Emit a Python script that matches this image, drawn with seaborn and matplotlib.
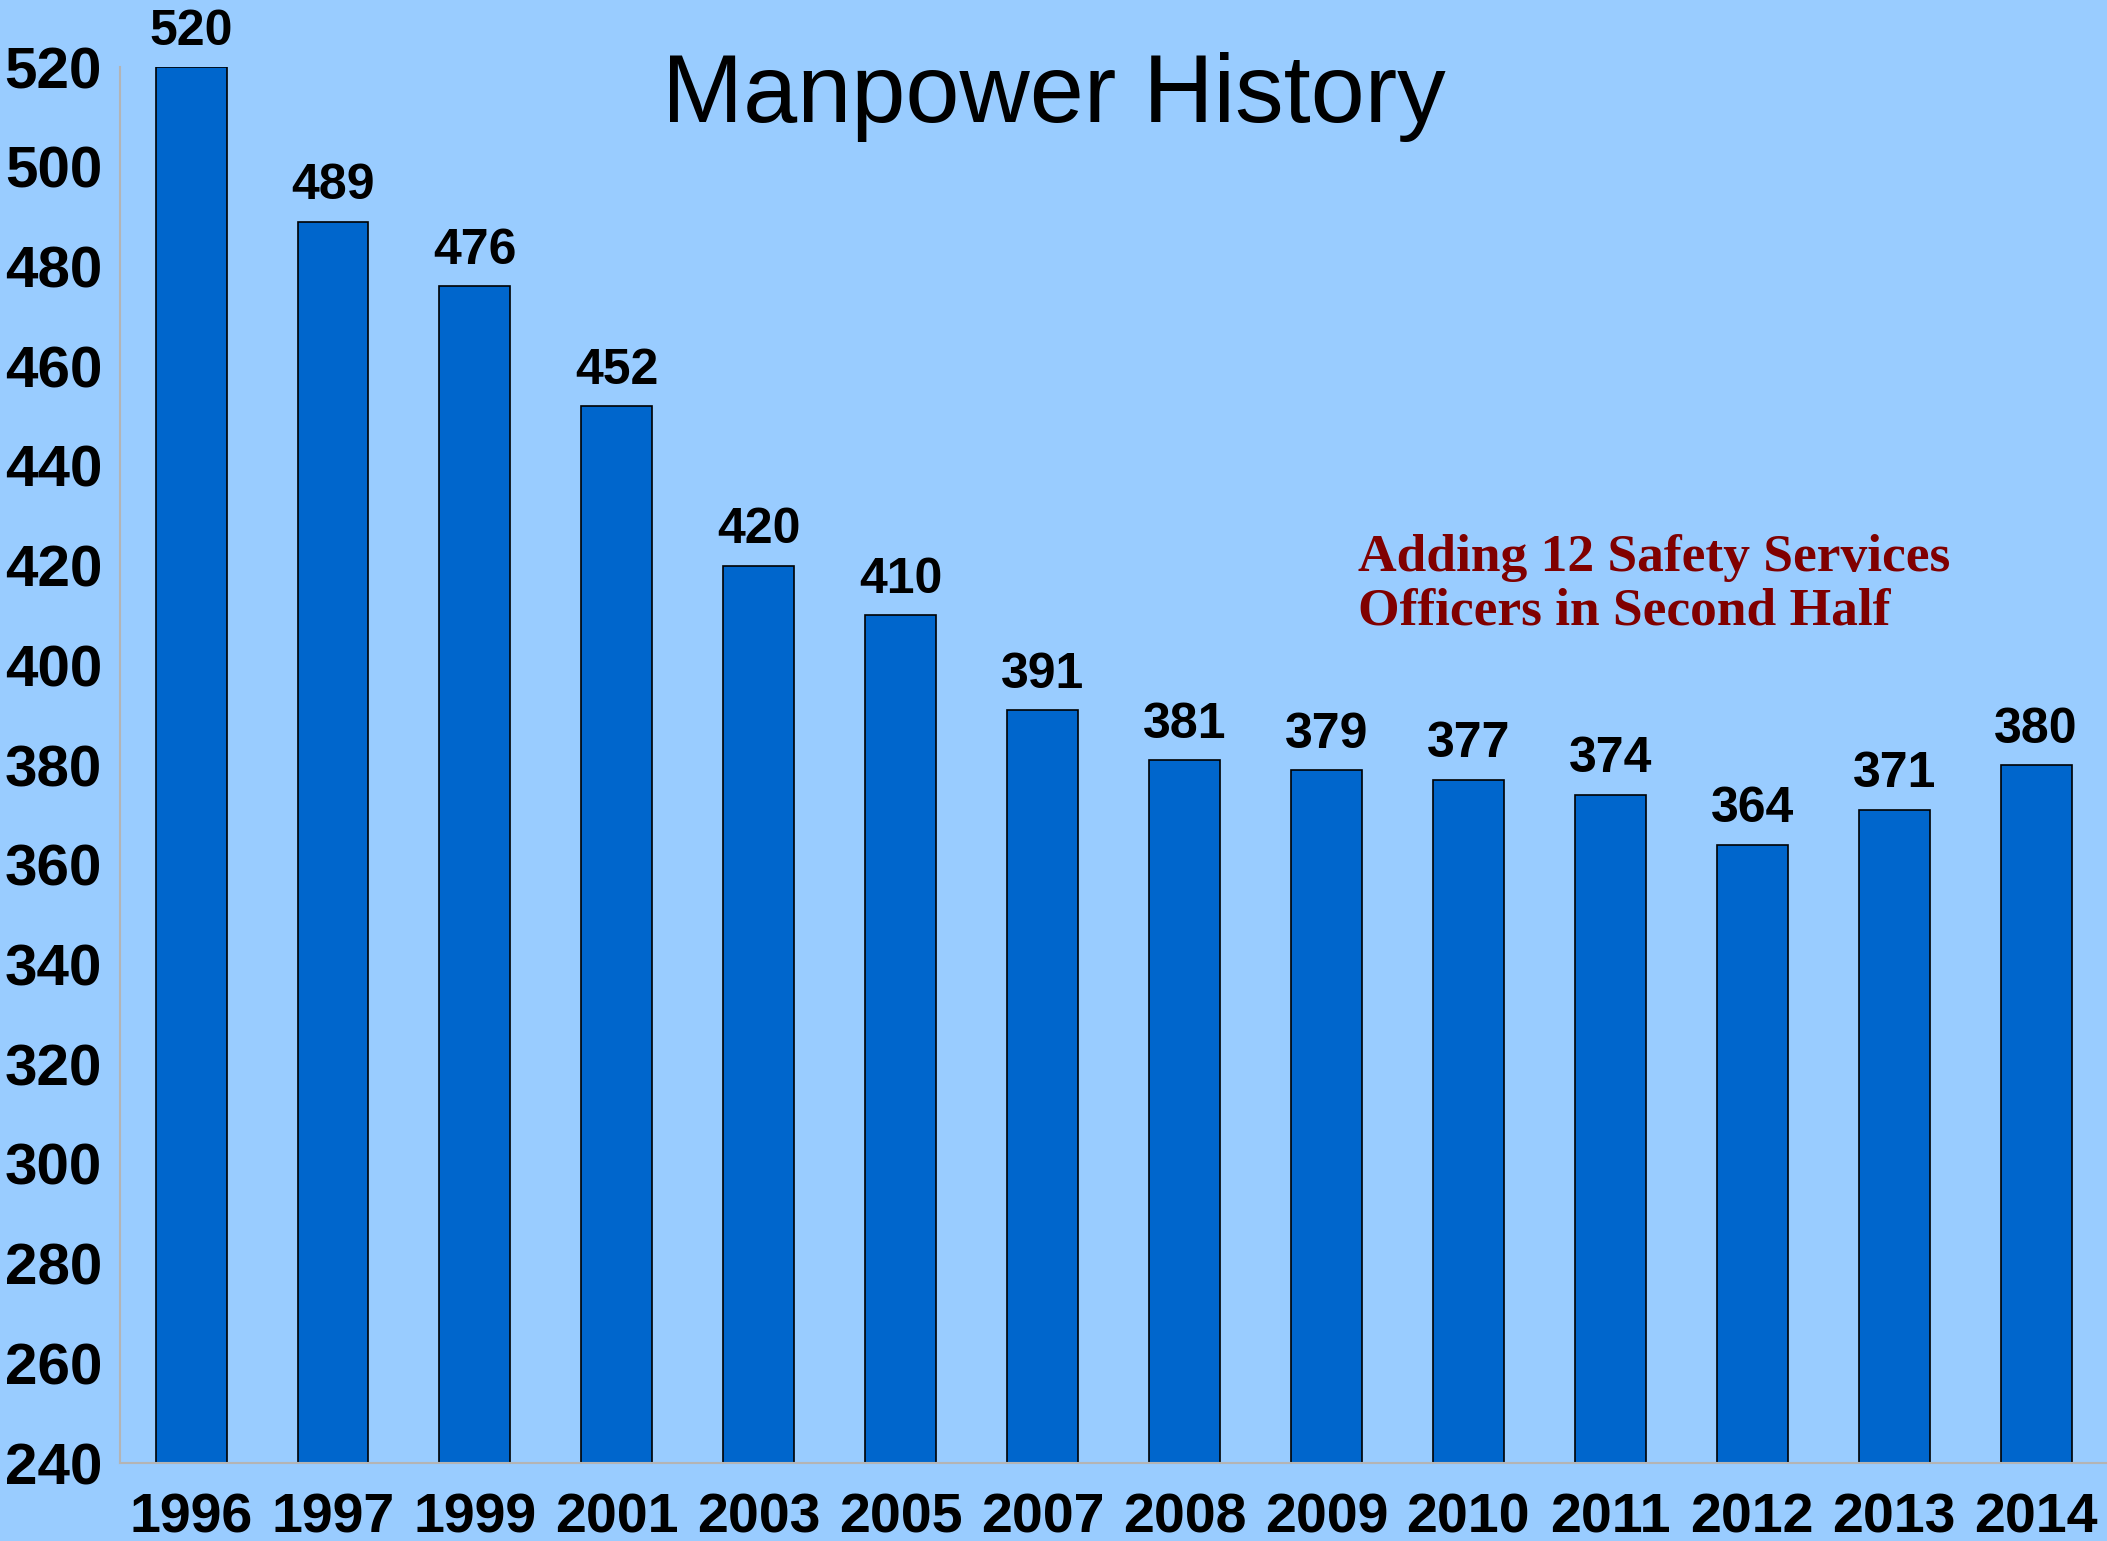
import numpy as np
import pandas as pd
import matplotlib
matplotlib.use("Agg")
import matplotlib.pyplot as plt
import seaborn as sns

years = ["1996", "1997", "1999", "2001", "2003", "2005", "2007",
         "2008", "2009", "2010", "2011", "2012", "2013", "2014"]
manpower = [520, 489, 476, 452, 420, 410, 391, 381, 379, 377, 374, 364, 371, 380]

note_lines = ["Adding 12 Safety Services", "Officers in Second Half"]

df = pd.DataFrame({"Year": years, "Manpower": manpower})

bg = "#99CCFF"
bar_color = "#0066CC"
axis_gray = "#B4B4B4"

sns.set_style("white")
plt.rcParams['font.family'] = ['Liberation Sans', 'DejaVu Sans']
plt.rcParams['text.color'] = 'black'
plt.rcParams['xtick.color'] = 'black'
plt.rcParams['ytick.color'] = 'black'

fig = plt.figure(figsize=(21.07, 15.41), dpi=100, facecolor=bg)
ax = fig.add_axes([0.057, 0.0506, 0.943, 0.9059])
ax.set_facecolor(bg)

sns.barplot(data=df, x="Year", y="Manpower", color=bar_color, saturation=1,
            width=0.5, edgecolor="black", linewidth=1.2, ax=ax)

ax.set_ylim(240, 520)
ax.set_xlim(-0.5, len(years) - 0.5)
ax.set_yticks(np.arange(240, 521, 20))
ax.set_xlabel("")
ax.set_ylabel("")

for s in ["top", "right"]:
    ax.spines[s].set_visible(False)
for s in ["left", "bottom"]:
    ax.spines[s].set_color(axis_gray)
    ax.spines[s].set_linewidth(1.5)

ax.tick_params(axis="y", which="major", length=8, width=1.5, color=axis_gray,
               labelcolor="black", direction="out", pad=5, labelsize=42)
ax.tick_params(axis="x", which="major", length=0, pad=21, labelsize=40,
               labelcolor="black")
ax.set_xticks(np.arange(-0.5, len(years), 1.0), minor=True)
ax.tick_params(axis="x", which="minor", length=8, width=1.5, color=axis_gray,
               direction="out")
for lab in ax.get_xticklabels() + ax.get_yticklabels():
    lab.set_fontweight("bold")

ax.bar_label(ax.containers[0], labels=[str(v) for v in manpower], padding=9,
             fontsize=36, fontweight="bold", color="black", clip_on=False)

fig.text(0.5, 0.921, "Manpower History", ha="center", va="baseline",
         fontsize=70, color="black")

for i, line in enumerate(note_lines):
    fig.text(0.6445, 0.6295 - i * 0.035, line, ha="left", va="baseline",
             fontsize=38.5, fontweight="bold", color="#800000",
             family=["Liberation Serif", "DejaVu Serif"])

fig.savefig("out.png", dpi=100, facecolor=bg)
